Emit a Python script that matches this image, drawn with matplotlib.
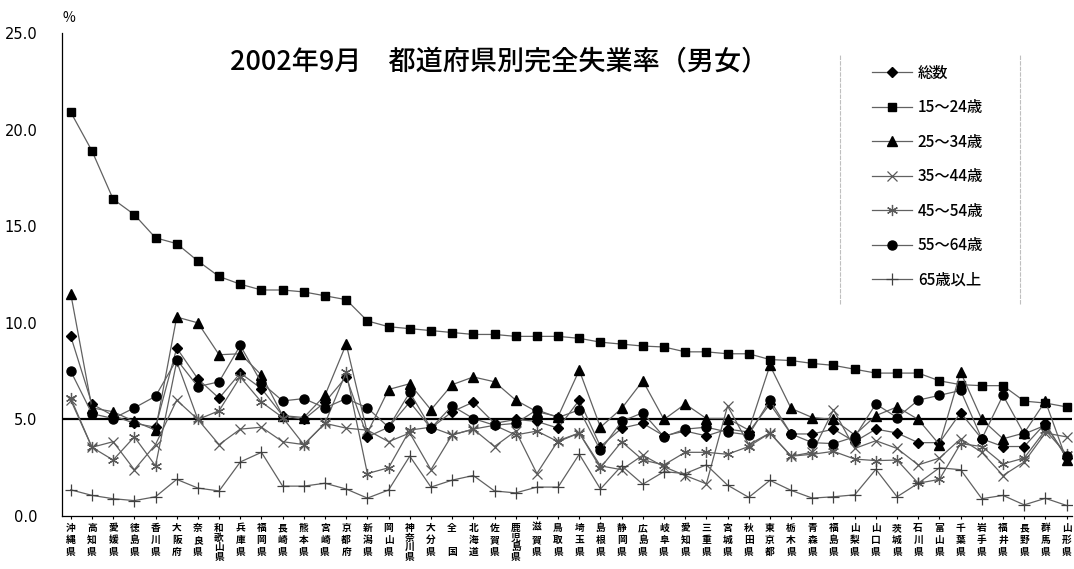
import matplotlib.pyplot as plt
from matplotlib.lines import Line2D

plt.rcParams['font.family'] = ['Noto Sans CJK JP', 'DejaVu Sans']

# prefectures, in the order of the 15-24 rate
prefs = ["沖縄県", "高知県", "愛媛県", "徳島県", "香川県", "大阪府", "奈良県", "和歌山県",
         "兵庫県", "福岡県", "長崎県", "熊本県", "宮崎県", "京都府", "新潟県", "岡山県",
         "神奈川県", "大分県", "全国", "北海道", "佐賀県", "鹿児島県", "滋賀県", "鳥取県",
         "埼玉県", "島根県", "静岡県", "広島県", "岐阜県", "愛知県", "三重県", "宮城県",
         "秋田県", "東京都", "栃木県", "青森県", "福島県", "山梨県", "山口県", "茨城県",
         "石川県", "富山県", "千葉県", "岩手県", "福井県", "長野県", "群馬県", "山形県"]

total = [9.3, 5.8, 5.2, 4.8, 4.6, 8.7, 7.1, 6.1, 7.4, 6.6, 5.2, 5.0, 5.9, 7.2, 4.1, 4.6,
         5.9, 4.55, 5.4, 5.9, 4.8, 5.0, 4.9, 4.55, 6.0, 3.6, 4.55, 4.8, 4.15, 4.4, 4.15, 4.5,
         4.35, 5.8, 4.25, 4.25, 4.5, 3.85, 4.5, 4.3, 3.8, 3.8, 5.35, 4.0, 3.6, 3.6, 4.8, 3.0]
age15_24 = [20.9, 18.9, 16.4, 15.6, 14.4, 14.1, 13.2, 12.4, 12.0, 11.7, 11.7, 11.6, 11.4, 11.2,
            10.1, 9.8, 9.7, 9.6, 9.5, 9.4, 9.4, 9.3, 9.3, 9.3, 9.2, 9.0, 8.9, 8.8, 8.75, 8.5,
            8.5, 8.4, 8.4, 8.1, 8.05, 7.9, 7.8, 7.6, 7.4, 7.4, 7.4, 7.0, 6.8, 6.75, 6.75, 5.95,
            5.85, 5.65]
age25_34 = [11.5, 5.6, 5.4, 4.9, 4.45, 10.3, 10.0, 8.35, 8.4, 7.3, 5.2, 5.1, 6.25, 8.9, 4.3,
            6.55, 6.85, 5.5, 6.8, 7.2, 6.95, 6.0, 5.4, 5.15, 7.55, 4.6, 5.57, 7.0, 5.0, 5.8,
            5.05, 5.05, 4.45, 7.8, 5.57, 5.1, 5.0, 4.2, 5.2, 5.65, 5.0, 3.7, 7.45, 5.0, 4.0,
            4.3, 5.95, 2.9]
age35_44 = [6.0, 3.56, 3.85, 2.4, 3.7, 6.0, 5.0, 3.7, 4.5, 4.6, 3.85, 3.7, 4.8, 4.55, 4.45,
            3.85, 4.3, 2.4, 4.2, 4.5, 3.6, 4.4, 2.2, 3.9, 4.3, 2.6, 2.4, 3.15, 2.55, 2.1, 1.67,
            5.7, 3.7, 4.3, 3.1, 3.3, 5.5, 3.5, 3.9, 3.5, 2.65, 3.0, 4.0, 3.3, 2.1, 2.8, 4.3, 4.1]
age45_54 = [6.1, 3.56, 2.9, 4.1, 2.6, 8.0, 5.0, 5.45, 7.2, 5.9, 5.1, 3.7, 4.8, 7.45, 2.2, 2.5,
            4.45, 4.6, 4.2, 4.5, 4.7, 4.2, 4.4, 3.85, 4.3, 2.5, 3.85, 2.9, 2.65, 3.3, 3.3, 3.2,
            3.6, 4.3, 3.1, 3.2, 3.35, 2.95, 2.87, 2.9, 1.7, 1.9, 3.75, 3.6, 2.7, 3.0, 4.45, 3.2]
age55_64 = [7.5, 5.3, 5.05, 5.6, 6.2, 8.1, 6.7, 6.95, 8.83, 6.9, 5.96, 6.08, 5.6, 6.08, 5.6,
            4.6, 6.4, 4.55, 5.7, 5.05, 4.7, 4.8, 5.5, 5.1, 5.5, 3.4, 4.9, 5.35, 4.1, 4.5, 4.6,
            4.35, 4.2, 6.0, 4.25, 3.8, 3.75, 4.1, 5.8, 5.1, 6.0, 6.25, 6.5, 4.0, 6.25, 4.25,
            4.7, 3.1]
age65 = [1.36, 1.07, 0.9, 0.8, 1.0, 1.9, 1.45, 1.3, 2.8, 3.3, 1.55, 1.55, 1.7, 1.4, 0.93, 1.35,
         3.1, 1.5, 1.86, 2.1, 1.3, 1.2, 1.5, 1.5, 3.2, 1.4, 2.6, 1.65, 2.3, 2.2, 2.65, 1.6,
         0.97, 1.85, 1.33, 0.93, 1.0, 1.1, 2.42, 1.0, 1.7, 2.5, 2.4, 0.9, 1.07, 0.58, 0.92, 0.55]

yticks = [0, 5, 10, 15, 20, 25]

fig = plt.figure(figsize=(10.74, 5.69), dpi=100)
ax = fig.add_axes([0.058, 0.093, 0.94, 0.849])

x = list(range(len(prefs)))
line_col = '0.38'
series = [
    ("総数", total, dict(marker='D', ms=5.5, mfc='black', mec='black')),
    ("15～24歳", age15_24, dict(marker='s', ms=6, mfc='black', mec='black')),
    ("25～34歳", age25_34, dict(marker='^', ms=7, mfc='black', mec='black')),
    ("35～44歳", age35_44, dict(marker='x', ms=7, mec='0.35', mew=0.9)),
    ("45～54歳", age45_54, dict(marker=(6, 2, 0), ms=8, mec='0.35', mew=0.9)),
    ("55～64歳", age55_64, dict(marker='o', ms=6.5, mfc='black', mec='black')),
    ("65歳以上", age65, dict(marker='+', ms=8, mec='0.25', mew=0.9)),
]
handles = []
for label, vals, style in series:
    h, = ax.plot(x, vals, color=line_col, lw=0.9, label=label, zorder=3, **style)
    handles.append(h)

ax.axhline(5.0, color='black', lw=1.6, zorder=2)

ax.set_xlim(-0.4, 47.25)
ax.set_ylim(0, 25)
ax.set_yticks(yticks)
ax.set_yticklabels(["%.1f" % v for v in yticks], fontsize=10.5, family='DejaVu Sans')
ax.tick_params(axis='y', length=0, pad=18)
ax.tick_params(axis='x', length=2, pad=3)

def stack(name):
    if name == "全国":
        return "全\n\n国"
    return "\n".join(name)

ax.set_xticks(x)
ax.set_xticklabels([stack(p) for p in prefs], fontsize=7, fontweight='bold', linespacing=1.25)
for t, p in zip(ax.get_xticklabels(), prefs):
    if len(p) == 4:
        t.set_linespacing(0.95)

for s in ['top', 'right']:
    ax.spines[s].set_visible(False)
ax.spines['left'].set_linewidth(0.9)
ax.spines['bottom'].set_linewidth(0.9)

# legend with faint side rules
ax.legend(handles=handles, loc='upper left', bbox_to_anchor=(0.802, 0.935),
          frameon=False, prop={'size': 11, 'weight': 'medium'}, labelspacing=1.15,
          handlelength=2.6, handletextpad=0.4, borderpad=0, borderaxespad=0)
for xa in (0.77, 0.949):
    ax.add_line(Line2D([xa, xa], [0.44, 0.955], transform=ax.transAxes,
                       color='0.75', lw=0.8, ls=(0, (4, 1))))

fig.text(0.465, 0.891, "2002年9月　都道府県別完全失業率（男女）", ha='center', va='center',
         fontsize=19.5, fontweight='medium')
fig.text(0.058, 0.968, "%", ha='left', va='center', fontsize=10)

fig.savefig("out.png", dpi=100)
